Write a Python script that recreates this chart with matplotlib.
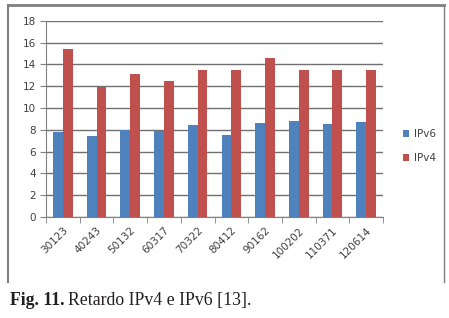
import matplotlib
matplotlib.use("Agg")
import matplotlib.pyplot as plt
from matplotlib.lines import Line2D
import numpy as np

categories = ["30123", "40243", "50132", "60317", "70322", "80412", "90162", "100202", "110371", "120614"]
ipv6 = [7.8, 7.45, 8.0, 7.9, 8.4, 7.5, 8.65, 8.8, 8.55, 8.7]
ipv4 = [15.4, 11.9, 13.1, 12.5, 13.45, 13.5, 14.6, 13.5, 13.5, 13.5]
yticks = [0, 2, 4, 6, 8, 10, 12, 14, 16, 18]

W, H = 449, 318
fig = plt.figure(figsize=(W / 100, H / 100), dpi=100)
fig.patch.set_facecolor("white")

ax = fig.add_axes([46 / W, 1 - 217 / H, (383 - 46) / W, (217 - 20.7) / H])
x = np.arange(len(categories))
bw = 0.29
ax.bar(x - bw / 2, ipv6, bw, color="#4F81BD", label="IPv6", zorder=3)
ax.bar(x + bw / 2, ipv4, bw, color="#C0504D", label="IPv4", zorder=3)

ax.set_xlim(-0.5, len(categories) - 0.5)
ax.set_ylim(0, 18)
ax.set_yticks(yticks)
ax.set_yticklabels([str(v) for v in yticks], fontsize=7.5, color="#404040", family="DejaVu Sans")
ax.set_xticks(x)
ax.set_xticklabels(categories, rotation=45, ha="right", va="top", rotation_mode="anchor",
                   fontsize=7.5, color="#404040", family="DejaVu Sans")
ax.tick_params(axis="x", length=0, pad=6)
ax.set_xticks(np.arange(-0.5, len(categories)), minor=True)
ax.tick_params(axis="x", which="minor", length=4, color="#808080")
ax.tick_params(axis="y", length=4, color="#808080", pad=3)
ax.yaxis.grid(True, color="#707070", linewidth=1.0, zorder=0)
for s in ["top", "right"]:
    ax.spines[s].set_visible(False)
ax.spines["left"].set_color("#808080")
ax.spines["bottom"].set_color("#808080")

leg = fig.legend(loc="upper left", bbox_to_anchor=(398 / W, 1 - 124 / H), frameon=False,
                 fontsize=7.5, handlelength=0.6, handleheight=0.6, handletextpad=0.4,
                 labelspacing=1.35, borderpad=0)
for t in leg.get_texts():
    t.set_color("#404040")

# outer frame
fc = "#7f7f7f"
fig.add_artist(Line2D([8 / W, 444 / W], [1 - 5 / H, 1 - 5 / H], color=fc, linewidth=2.0))
fig.add_artist(Line2D([8 / W, 8 / W], [1 - 5 / H, 1 - 282 / H], color=fc, linewidth=1.5))
fig.add_artist(Line2D([444 / W, 444 / W], [1 - 5 / H, 1 - 282 / H], color=fc, linewidth=1.0))

# caption
t1 = fig.text(10 / W, 1 - 305 / H, "Fig. 11.", fontsize=12.8, fontweight="bold",
              family="Liberation Serif", color="#231f20", va="baseline")
fig.canvas.draw()
r = fig.canvas.get_renderer()
bb = t1.get_window_extent(r)
fig.text((bb.x1 + 4) / W, 1 - 305 / H, "Retardo IPv4 e IPv6 [13].", fontsize=12.8,
         family="Liberation Serif", color="#231f20", va="baseline")

fig.savefig("out.png", dpi=100)
